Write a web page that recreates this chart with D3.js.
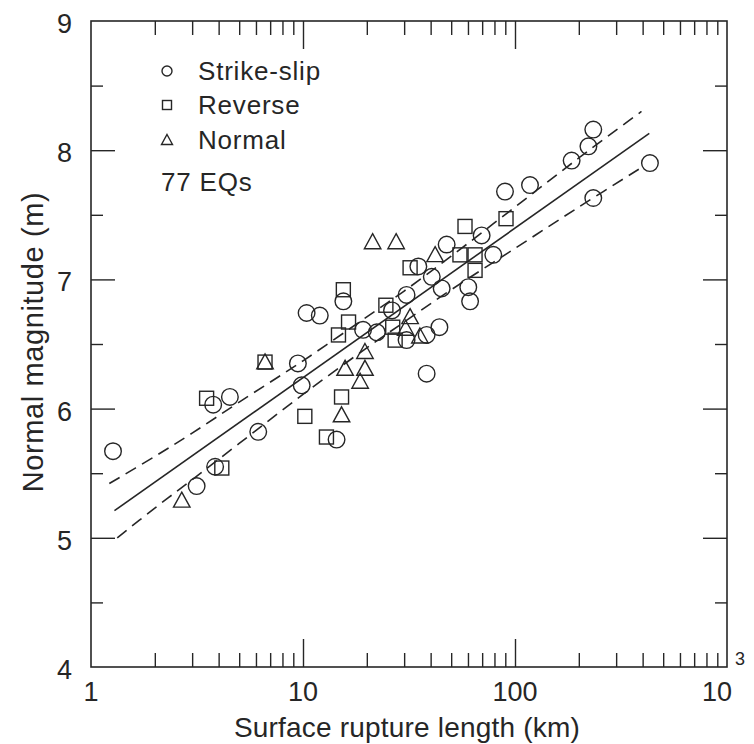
<!DOCTYPE html>
<html><head><meta charset="utf-8">
<script src="https://cdn.jsdelivr.net/npm/d3@7"></script>
<style>body{margin:0;background:#fff}</style>
</head><body><svg id="c" width="754" height="744"></svg>
<script>
// ---- data (rupture length km, magnitude) ----
const strikeSlip = [[1.27,5.67],[3.15,5.40],[3.85,5.55],[6.15,5.82],[14.4,5.76],[3.77,6.03],[4.52,6.09],
  [9.86,6.18],[9.46,6.35],[10.4,6.74],[12.0,6.72],[15.5,6.83],[19.2,6.61],[22.3,6.59],[30.8,6.53],[30.8,6.88],
  [26.3,6.76],[35.0,7.10],[40.5,7.02],[45.1,6.93],[60.2,6.94],[61.4,6.83],[47.6,7.27],[69.6,7.34],[79.0,7.19],
  [89.7,7.68],[117.7,7.73],[185,7.92],[222,8.03],[234,8.16],[234,7.63],[433,7.90],[38.3,6.57],[44.0,6.63],[38.3,6.27]];
const reverse = [[4.14,5.54],[3.51,6.08],[10.2,5.94],[12.9,5.78],[15.2,6.09],[14.7,6.57],[16.4,6.67],[15.5,6.92],
  [24.6,6.80],[26.5,6.63],[27.2,6.53],[32.0,7.09],[58.1,7.41],[55.0,7.19],[64.8,7.19],[64.8,7.07],[90.7,7.47],[6.62,6.36]];
const normal = [[2.68,5.29],[6.62,6.36],[21.3,7.29],[27.5,7.29],[19.6,6.44],[15.8,6.31],[19.6,6.31],[18.6,6.21],
  [15.2,5.95],[32.0,6.71],[35.6,6.56],[42.0,7.19],[30.5,6.62]];
const fitLine = [[1.29,5.21],[430,8.13]];
const upperBand = [[1.22,5.42],[2,5.63],[3,5.81],[5,6.05],[10,6.37],[20,6.71],[30,6.91],[50,7.18],[100,7.56],[200,7.94],[395,8.30]];
const lowerBand = [[1.33,5.00],[2,5.23],[3,5.45],[5,5.73],[10,6.11],[20,6.47],[30,6.67],[50,6.92],[100,7.24],[200,7.56],[390,7.86]];
const xTickLabels = [[1,"1"],[10,"10"],[100,"100"]];
const xTopLabel = {value:1000, base:"10", exp:"3"};
const yTickLabels = [4,5,6,7,8,9];
const legendLabels = ["Strike-slip","Reverse","Normal"];
const countLabel = "77 EQs";
const xTitle = "Surface rupture length (km)";
const yTitle = "Normal magnitude (m)";

// ---- drawing ----
const svg = d3.select("#c");
const ink = "#262626";
const font = "'Liberation Sans', Arial, Helvetica, sans-serif";
const x = d3.scaleLog().domain([1,1000]).range([91,727]);
const y = d3.scaleLinear().domain([4,9]).range([667,21]);
const [x0,x1] = x.range(), [y0,y1] = y.range();

const allX = x.ticks();
const isMajorX = v => Math.abs(Math.log10(v) - Math.round(Math.log10(v))) < 1e-9;
const minorX = allX.filter(v => !isMajorX(v));
const majorX = allX.filter(v => isMajorX(v) && v > 1 && v < 1000);
const yMinor = d3.range(4.5, 9, 1);
const yMajor = d3.range(5, 9, 1);

function strip(g){ g.select(".domain").remove(); g.selectAll("line").attr("stroke", ink).attr("stroke-width",1.4); g.selectAll("text").remove(); }
svg.append("g").attr("transform",`translate(0,${y0})`).call(d3.axisBottom(x).tickValues(minorX).tickSize(-14)).call(strip);
svg.append("g").attr("transform",`translate(0,${y0})`).call(d3.axisBottom(x).tickValues(majorX).tickSize(-28)).call(strip);
svg.append("g").attr("transform",`translate(0,${y1})`).call(d3.axisTop(x).tickValues(minorX).tickSize(-14)).call(strip);
svg.append("g").attr("transform",`translate(0,${y1})`).call(d3.axisTop(x).tickValues(majorX).tickSize(-28)).call(strip);
svg.append("g").attr("transform",`translate(${x0},0)`).call(d3.axisLeft(y).tickValues(yMinor).tickSize(-12)).call(strip);
svg.append("g").attr("transform",`translate(${x0},0)`).call(d3.axisLeft(y).tickValues(yMajor).tickSize(-24)).call(strip);
svg.append("g").attr("transform",`translate(${x1},0)`).call(d3.axisRight(y).tickValues(yMinor).tickSize(-12)).call(strip);
svg.append("g").attr("transform",`translate(${x1},0)`).call(d3.axisRight(y).tickValues(yMajor).tickSize(-24)).call(strip);

svg.append("rect").attr("x",x0).attr("y",y1).attr("width",x1-x0).attr("height",y0-y1)
  .attr("fill","none").attr("stroke",ink).attr("stroke-width",1.6);

// tick labels
const tl = svg.append("g").attr("font-family",font).attr("font-size",27).attr("fill",ink);
tl.selectAll("text.x").data(xTickLabels).join("text").attr("class","x")
  .attr("x",d=>x(d[0])).attr("y",y0+34).attr("text-anchor","middle").text(d=>d[1]);
const xl = tl.append("text").attr("x",x(xTopLabel.value)-25).attr("y",y0+34).attr("text-anchor","start");
xl.append("tspan").text(xTopLabel.base);
xl.append("tspan").attr("font-size",18).attr("dy",-36).attr("dx",3).text(xTopLabel.exp);
tl.selectAll("text.y").data(yTickLabels).join("text").attr("class","y")
  .attr("x",x0-19).attr("y",d=>y(d)+12).attr("text-anchor","end").text(d=>d);

// titles
svg.append("text").attr("x",(x0+x1)/2-2).attr("y",737).attr("text-anchor","middle")
  .attr("font-family",font).attr("font-size",28).attr("letter-spacing",0.2).attr("fill",ink).text(xTitle);
svg.append("text").attr("transform",`translate(43,${(y0+y1)/2-2}) rotate(-90)`).attr("text-anchor","middle")
  .attr("font-family",font).attr("font-size",29).attr("letter-spacing",0.6).attr("fill",ink).text(yTitle);

// regression and bands
const line = d3.line().x(d=>x(d[0])).y(d=>y(d[1]));
const curve = d3.line().x(d=>x(d[0])).y(d=>y(d[1])).curve(d3.curveCatmullRom);
svg.append("path").attr("d",line(fitLine)).attr("fill","none").attr("stroke",ink).attr("stroke-width",1.6);
[upperBand, lowerBand].forEach(b => svg.append("path").attr("d",curve(b)).attr("fill","none")
  .attr("stroke",ink).attr("stroke-width",1.6).attr("stroke-dasharray","12,7"));

// markers
const mk = svg.append("g").attr("fill","none").attr("stroke",ink).attr("stroke-width",1.4);
const tri = (s) => `M0,${-s*0.55}L${s*0.55},${s*0.45}L${-s*0.55},${s*0.45}Z`;
mk.selectAll("circle.s").data(strikeSlip).join("circle").attr("class","s")
  .attr("cx",d=>x(d[0])).attr("cy",d=>y(d[1])).attr("r",8.3);
mk.selectAll("rect.r").data(reverse).join("rect").attr("class","r")
  .attr("x",d=>x(d[0])-7).attr("y",d=>y(d[1])-7).attr("width",14).attr("height",14);
mk.selectAll("path.n").data(normal).join("path").attr("class","n")
  .attr("transform",d=>`translate(${x(d[0])},${y(d[1])})`).attr("d",tri(15));

// legend
const lg = svg.append("g").attr("font-family",font).attr("font-size",26).attr("letter-spacing",0.8).attr("fill",ink);
const lx = 167, ly = [71,105,140];
lg.append("circle").attr("cx",lx).attr("cy",ly[0]).attr("r",5).attr("fill","none").attr("stroke",ink).attr("stroke-width",1.4);
lg.append("rect").attr("x",lx-4.5).attr("y",ly[1]-4.5).attr("width",9).attr("height",9).attr("fill","none").attr("stroke",ink).attr("stroke-width",1.4);
lg.append("path").attr("transform",`translate(${lx},${ly[2]})`).attr("d",tri(10)).attr("fill","none").attr("stroke",ink).attr("stroke-width",1.4);
lg.selectAll("text.l").data(legendLabels).join("text").attr("class","l")
  .attr("x",198).attr("y",(d,i)=>ly[i]+9).text(d=>d);
lg.append("text").attr("x",161).attr("y",191).text(countLabel);
</script></body></html>
